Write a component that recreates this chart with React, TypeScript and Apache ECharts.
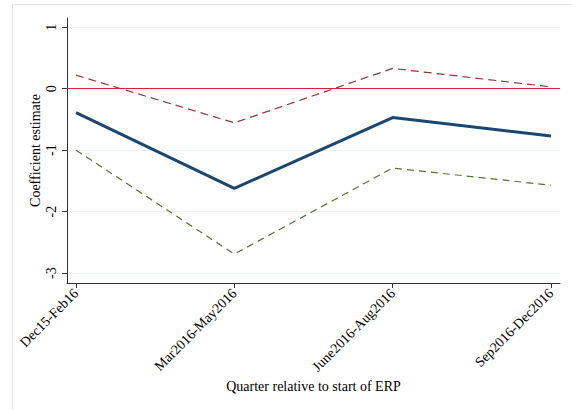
import React, { useEffect, useRef } from "react";
import * as echarts from "echarts";

const categories = ["Dec15-Feb16", "Mar2016-May2016", "June2016-Aug2016", "Sep2016-Dec2016"];
const estimate = [-0.39, -1.62, -0.47, -0.77];
const upperCI = [0.22, -0.555, 0.33, 0.03];
const lowerCI = [-1.0, -2.69, -1.29, -1.57];
const yTicks = [-3, -2, -1, 0, 1];
const xTicks = [0, 1, 2, 3];

const FONT = "Liberation Serif";

export default function App() {
  const ref = useRef<HTMLDivElement>(null);
  useEffect(() => {
    if (!ref.current) return;
    const chart = echarts.init(ref.current, null, { renderer: "svg" });
    const toPairs = (arr: number[]) => arr.map((v, i) => [i, v]);
    chart.setOption({
      animation: false,
      backgroundColor: "#ffffff",
      textStyle: { fontFamily: FONT },
      graphic: [
        {
          type: "polyline",
          shape: { points: [[12.5, 412], [12.5, 4.5], [580, 4.5]] },
          style: { stroke: "#e6e6e6", fill: "none", lineWidth: 1 },
          silent: true,
        },
      ],
      grid: { left: 67, right: 12, top: 18, bottom: 127, containLabel: false },
      xAxis: {
        type: "value",
        min: -0.057,
        max: 3.057,
        name: "Quarter relative to start of ERP",
        nameLocation: "middle",
        nameGap: 96,
        nameMoveOverlap: false,
        nameTextStyle: { fontFamily: FONT, fontSize: 14, color: "#000" },
        axisLine: { show: true, onZero: false, lineStyle: { color: "#333", width: 1 } },
        axisTick: { show: true, length: 5, customValues: xTicks, lineStyle: { color: "#333" } },
        axisLabel: {
          customValues: xTicks,
          rotate: 45,
          margin: 8,
          fontFamily: FONT,
          fontSize: 14,
          color: "#000",
          formatter: (v: number) => categories[Math.round(v)] ?? "",
        },
        splitLine: { show: false },
      },
      yAxis: {
        type: "value",
        min: -3.16,
        max: 1.15,
        name: "Coefficient estimate",
        nameLocation: "middle",
        nameGap: 25,
        nameRotate: 90,
        nameMoveOverlap: false,
        nameTextStyle: { fontFamily: FONT, fontSize: 14, color: "#000" },
        axisLine: { show: true, onZero: false, lineStyle: { color: "#333", width: 1 } },
        axisTick: { show: true, length: 5, customValues: yTicks, lineStyle: { color: "#333" } },
        axisLabel: {
          customValues: yTicks,
          rotate: 90,
          margin: 9,
          fontFamily: FONT,
          fontSize: 14,
          color: "#000",
        },
        splitLine: { show: true, lineStyle: { color: "#eaf2f3", width: 1 } },
      },
      series: [
        {
          type: "line",
          name: "Upper",
          data: toPairs(upperCI),
          showSymbol: false,
          symbol: "none",
          lineStyle: { color: "#90353b", width: 1.2, type: [8, 5] },
          z: 3,
        },
        {
          type: "line",
          name: "Lower",
          data: toPairs(lowerCI),
          showSymbol: false,
          symbol: "none",
          lineStyle: { color: "#55752f", width: 1.2, type: [7, 5] },
          z: 3,
        },
        {
          type: "line",
          name: "Estimate",
          data: toPairs(estimate),
          showSymbol: false,
          symbol: "none",
          lineStyle: { color: "#1a476f", width: 3 },
          z: 4,
          markLine: {
            silent: true,
            symbol: "none",
            label: { show: false },
            lineStyle: { color: "#d62438", width: 1.2, type: "solid" },
            data: [{ yAxis: 0 }],
          },
        },
      ],
    });
    return () => chart.dispose();
  }, []);
  return <div ref={ref} style={{ width: 572, height: 410, position: "absolute", left: 0, top: 0 }} />;
}
